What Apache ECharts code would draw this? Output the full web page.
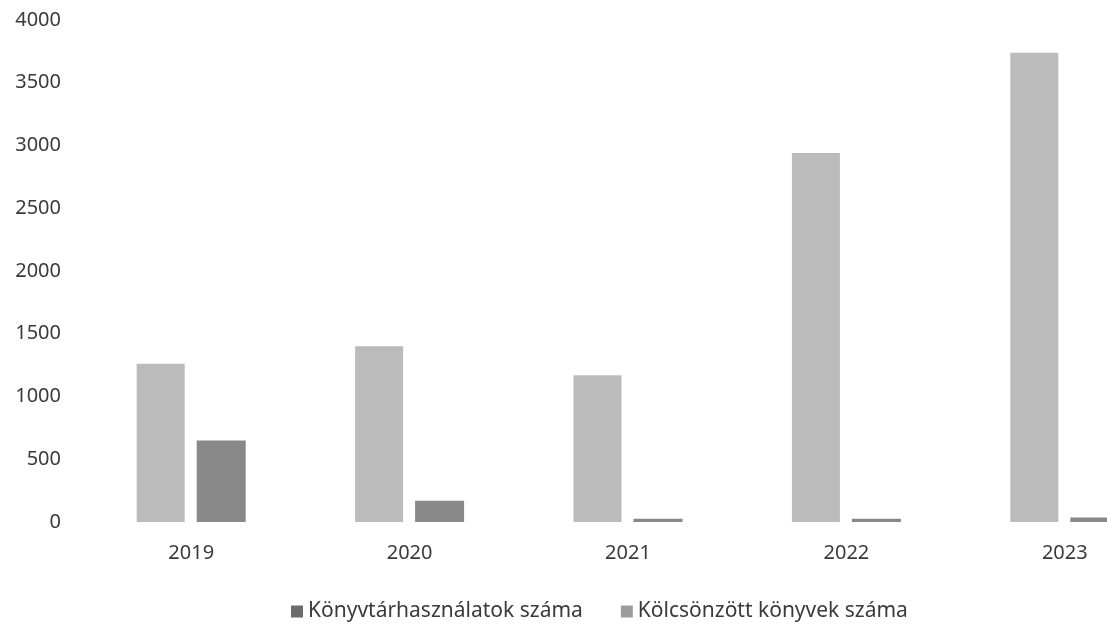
<!DOCTYPE html>
<html>
<head>
<meta charset="utf-8">
<script src="https://cdn.jsdelivr.net/npm/echarts@6/dist/echarts.min.js"></script>
<style>
html,body{margin:0;padding:0;background:#fff;}
#c{width:1107px;height:627px;}
</style>
</head>
<body>
<div id="c"></div>
<script>
const years = ['2019', '2020', '2021', '2022', '2023'];
const seriesNames = ['Könyvtárhasználatok száma', 'Kölcsönzött könyvek száma'];
const konyvtarhasznalatok = [1260, 1400, 1170, 2940, 3740];
const kolcsonzott = [650, 170, 25, 25, 35];
const yTicks = { min: 0, max: 4000, interval: 500 };

const chart = echarts.init(document.getElementById('c'));
const font = 'Noto Sans';
chart.setOption({
  animation: false,
  backgroundColor: '#ffffff',
  grid: { left: 82, width: 1092, top: 20, height: 502, containLabel: false, outerBoundsMode: 'none' },
  legend: {
    top: 596,
    left: 286,
    itemWidth: 12,
    itemHeight: 12,
    itemGap: 38,
    icon: 'rect',
    textStyle: { fontFamily: font, fontSize: 21, color: '#3a3a3a' },
    data: [
      { name: seriesNames[0], itemStyle: { color: '#6c6c6c' } },
      { name: seriesNames[1], itemStyle: { color: '#9c9c9c' } }
    ]
  },
  xAxis: {
    type: 'category',
    data: years,
    axisLine: { show: false },
    axisTick: { show: false },
    axisLabel: { fontFamily: font, fontSize: 20, color: '#3a3a3a', margin: 21 }
  },
  yAxis: {
    type: 'value',
    min: yTicks.min,
    max: yTicks.max,
    interval: yTicks.interval,
    splitLine: { show: false },
    axisLine: { show: false },
    axisTick: { show: false },
    axisLabel: { fontFamily: font, fontSize: 20, color: '#3a3a3a', margin: 21, formatter: v => String(v) }
  },
  series: [
    {
      name: seriesNames[0],
      type: 'bar',
      data: konyvtarhasznalatok,
      barWidth: 48,
      barGap: '25%',
      itemStyle: { color: '#bbbbbb' }
    },
    {
      name: seriesNames[1],
      type: 'bar',
      data: kolcsonzott,
      barWidth: 49,
      itemStyle: { color: '#888888' }
    }
  ]
});
</script>
</body>
</html>
